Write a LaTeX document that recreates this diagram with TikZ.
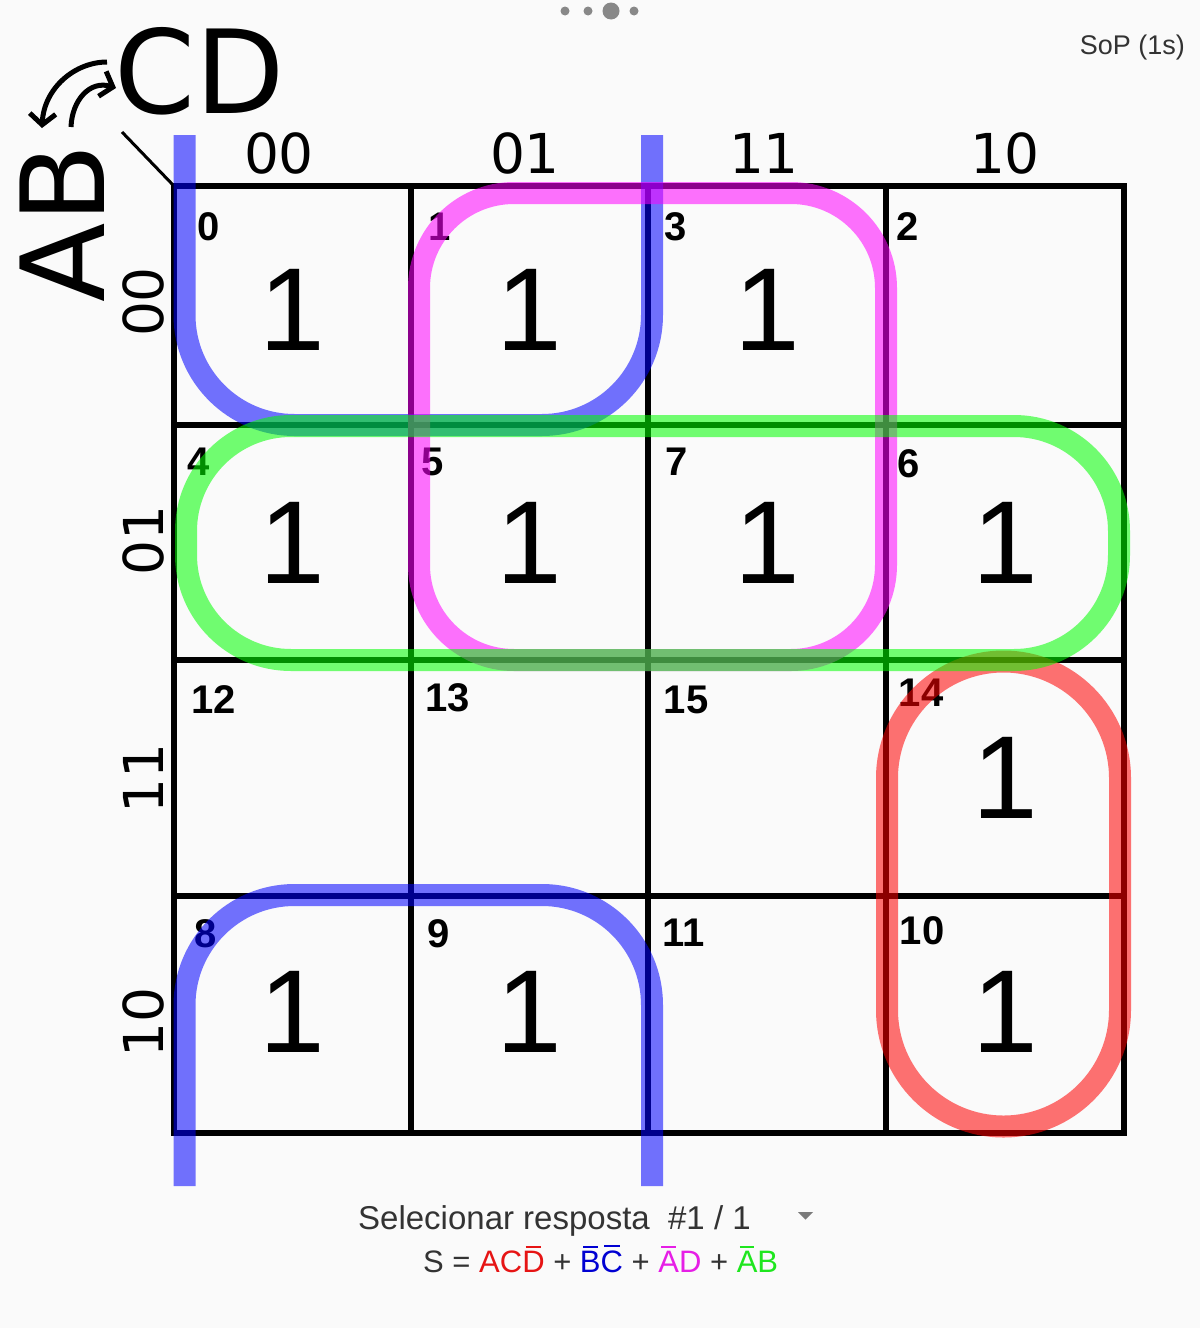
\documentclass[tikz,border=0pt]{standalone}
\usepackage{fontspec}
\setmainfont{Liberation Sans}
\newfontfamily\dvfont{DejaVu Sans}
\newfontfamily\arfont{Liberation Sans}
\usetikzlibrary{arrows.meta}
\definecolor{bgc}{RGB}{250,250,250}
\definecolor{uitext}{RGB}{51,51,51}
\definecolor{dotgray}{RGB}{136,136,136}
\definecolor{fred}{RGB}{230,20,20}
\definecolor{fblue}{RGB}{0,0,210}
\definecolor{fmag}{RGB}{230,30,230}
\definecolor{fgreen}{RGB}{30,230,30}
\definecolor{lpblue}{RGB}{0,0,255}
\definecolor{lpred}{RGB}{255,0,0}
\definecolor{lpmag}{RGB}{255,0,255}
\definecolor{lpgreen}{RGB}{0,255,0}
\newcommand\obar[1]{\setbox0\hbox{#1}\makebox[0pt][l]{\hspace{0.15\wd0}\raisebox{\dimexpr\ht0+3pt\relax}{\rule{0.7\wd0}{2pt}}}\box0}
\begin{document}
\begin{tikzpicture}[x=1pt,y=-1pt,
  gridline/.style={line width=5.5pt},
  valtext/.style={inner sep=0pt, font=\arfont\fontsize{118}{120}\selectfont},
  idxtext/.style={inner sep=0pt, font=\arfont\bfseries\fontsize{40}{42}\selectfont},
  headtext/.style={inner sep=0pt, font=\dvfont\fontsize{55}{58}\selectfont},
  vartext/.style={inner sep=0pt, font=\dvfont\fontsize{116}{120}\selectfont},
  uilabel/.style={inner sep=0pt, text=uitext, font=\arfont\fontsize{31}{34}\selectfont},
  loopline/.style={line width=22pt, draw opacity=0.55},
  bluelp/.style={loopline, draw=lpblue, rounded corners=110pt},
  redlp/.style={loopline, draw=lpred},
  maglp/.style={loopline, draw=lpmag, rounded corners=95pt},
  greenlp/.style={loopline, draw=lpgreen, rounded corners=105pt},
  swaparrow/.style={line width=5pt, -{Straight Barb[length=11pt,width=26pt,line width=5pt]}}
]
\fill[bgc] (0,0) rectangle (1200,1328);
\useasboundingbox (0,0) rectangle (1200,1328);

% top dots
\fill[dotgray] (565,11) circle (4.5pt);
\fill[dotgray] (588,11) circle (4.5pt);
\fill[dotgray] (611,11) circle (8.5pt);
\fill[dotgray] (634,11) circle (4.5pt);

% top right label
\node[uilabel, anchor=base east, font=\arfont\fontsize{27}{30}\selectfont] (sop) at (1185,54) {SoP (1s)};

% variable labels
\node[vartext] (cd) at (200,71) {CD};
\node[vartext, rotate=90] (ab) at (62,223) {AB};
\coordinate (diagA) at (122,132);
\coordinate (diagB) at (174,186);
\draw[line width=3pt] (diagA) -- (diagB);
\coordinate (a1s) at (107,62);
\coordinate (a1e) at (42,128);
\coordinate (a2s) at (71,127);
\coordinate (a2e) at (116,88);
\draw[swaparrow] (a1s) .. controls (75,62) and (44,88) .. (a1e);
\draw[swaparrow] (a2s) .. controls (72,100) and (90,80) .. (a2e);

% grid
\draw[gridline] (174,186) rectangle (1124,1133);
\foreach \gx in {411,648,886} \draw[gridline] (\gx,186) -- (\gx,1133);
\foreach \gy in {425,660,896} \draw[gridline] (174,\gy) -- (1124,\gy);

% column headers
\node[headtext] (h00) at (279,153) {00};
\node[headtext] (h01) at (525,153) {01};
\node[headtext] (h11) at (764,153) {11};
\node[headtext] (h10) at (1005,153) {10};
% row headers
\node[headtext, rotate=90] (r00) at (143,302) {00};
\node[headtext, rotate=90] (r01) at (143,540) {01};
\node[headtext, rotate=90] (r11) at (143,778) {11};
\node[headtext, rotate=90] (r10) at (143,1022) {10};

% cell indices
\node[idxtext] (i0) at (209,227) {0};
\node[idxtext] (i1) at (440,227) {1};
\node[idxtext] (i3) at (676,227) {3};
\node[idxtext] (i2) at (908,227) {2};
\node[idxtext] (i4) at (199,462) {4};
\node[idxtext] (i5) at (433,462) {5};
\node[idxtext] (i7) at (677,462) {7};
\node[idxtext] (i6) at (909,464) {6};
\node[idxtext] (i12) at (214,700) {12};
\node[idxtext] (i13) at (448,698) {13};
\node[idxtext] (i15) at (686,700) {15};
\node[idxtext] (i14) at (921,693) {14};
\node[idxtext] (i8) at (206,934) {8};
\node[idxtext] (i9) at (439,934) {9};
\node[idxtext] (i11) at (684,933) {11};
\node[idxtext] (i10) at (922,931) {10};

% cell values
\node[valtext] (v0) at (292.5,310) {1};
\node[valtext] (v1) at (529.5,310) {1};
\node[valtext] (v3) at (767,310) {1};
\node[valtext] (v4) at (292.5,543) {1};
\node[valtext] (v5) at (529.5,543) {1};
\node[valtext] (v7) at (767,543) {1};
\node[valtext] (v6) at (1005,543) {1};
\node[valtext] (v14) at (1005,778) {1};
\node[valtext] (v8) at (292.5,1012) {1};
\node[valtext] (v9) at (529.5,1012) {1};
\node[valtext] (v10) at (1005,1012) {1};

% loops
\draw[bluelp] (184.5,135) -- (184.5,425) -- (652,425) -- (652,135);
\draw[bluelp] (184.5,1186) -- (184.5,895) -- (652,895) -- (652,1186);
\draw[redlp] (887,778) arc[start angle=180, end angle=0, radius=116.5pt] -- (1120,1010) arc[start angle=0, end angle=-180, radius=116.5pt] -- cycle;
\draw[maglp] (419,193) rectangle (886,660);
\draw[greenlp] (186,426) rectangle (1119,660);

% bottom texts
\node[uilabel, anchor=base west, font=\arfont\fontsize{33}{36}\selectfont] (sel) at (358,1229) {Selecionar resposta\ \ \#1 / 1};
\fill[dotgray!90!black] (798,1212) -- (813,1212) -- (805.5,1219.5) -- cycle;
\node[uilabel, anchor=base west] (expr) at (423,1272) {S = \textcolor{fred}{AC\obar{D}} + \textcolor{fblue}{\obar{B}\obar{C}} + \textcolor{fmag}{\obar{A}D} + \textcolor{fgreen}{\obar{A}B}};
\end{tikzpicture}
\end{document}
